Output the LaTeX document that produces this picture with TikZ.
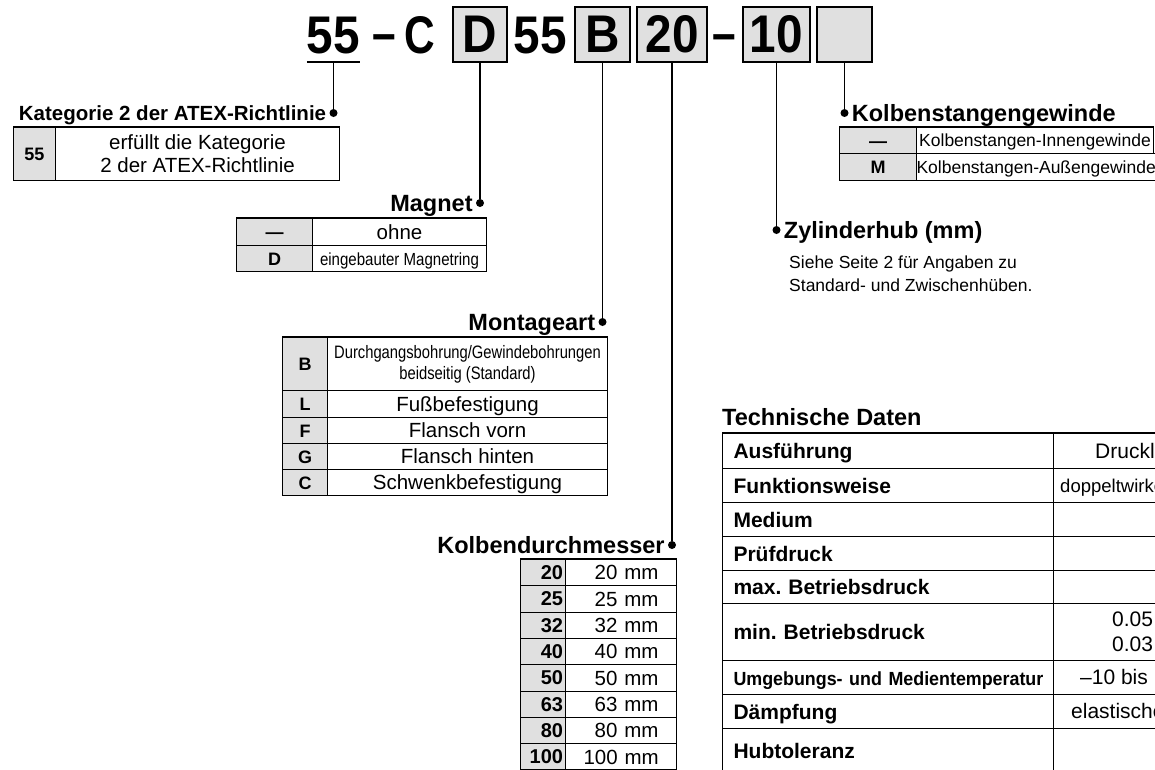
\documentclass[tikz,border=0pt]{standalone}
\usepackage{fontspec}
\setmainfont{Liberation Sans}
\usepackage{graphicx}
\usetikzlibrary{positioning}

\definecolor{boxgray}{RGB}{224,224,224}

\begin{document}
\begin{tikzpicture}[x=1pt, y=-1pt,
  codebox/.style={draw, line width=1.6pt, fill=boxgray, minimum height=55, inner sep=0,
    font=\bfseries\fontsize{53}{53}\selectfont},
  codetxt/.style={inner sep=0, anchor=base, font=\bfseries\fontsize{53}{53}\selectfont},
  conn/.style={line width=1.6pt},
  dot/.style={circle, fill, inner sep=0, minimum size=8},
  head/.style={inner sep=0, text height=17, text depth=0, font=\bfseries\fontsize{23.5}{26}\selectfont},
  keycell/.style={draw, line width=1pt, fill=boxgray, inner sep=0, anchor=north west,
    text height=13, text depth=0, font=\bfseries\fontsize{18}{20}\selectfont},
  txtcell/.style={draw, line width=1pt, inner sep=0, anchor=north west, align=center,
    font=\fontsize{20.5}{23}\selectfont},
  rowcell/.style={txtcell, text height=14.5, text depth=0},
  labcell/.style={draw, line width=1pt, anchor=north west, minimum width=331, text width=309,
    inner xsep=11, inner ysep=0, align=left, text height=15, text depth=0,
    font=\bfseries\fontsize{21}{24}\selectfont},
  valcell/.style={draw, line width=1pt, anchor=north west, minimum width=150, inner sep=0},
  valtxt/.style={anchor=west, inner sep=0, text height=15, text depth=0, font=\fontsize{21}{25}\selectfont},
  topline/.style={line width=2.2pt},
]

\useasboundingbox (0,0) rectangle (1155,769);
\clip (0,0) rectangle (1155,769);

% order code
\node[codetxt] (c55) at (333.5,53) {\scalebox{0.9}[1]{55}};
\node[codetxt] (dash1) at (384,53) {\raisebox{2pt}{\scalebox{0.8}[1]{–}}};
\node[codetxt] (cC) at (419.5,53) {\scalebox{0.8}[1]{C}};
\node[codebox, minimum width=54] (cD) at (480,34.5) {\scalebox{0.9}[1]{D}};
\node[codetxt] (c55b) at (540,53) {\scalebox{0.9}[1]{55}};
\node[codebox, minimum width=55] (cB) at (602.5,34.5) {\scalebox{0.9}[1]{B}};
\node[codebox, minimum width=70] (c20) at (672,34.5) {\scalebox{0.9}[1]{20}};
\node[codetxt] (dash2) at (724,53) {\raisebox{2pt}{\scalebox{0.8}[1]{–}}};
\node[codebox, minimum width=67] (c10) at (776.5,34.5) {\scalebox{0.9}[1]{10}};
\node[codebox, minimum width=55] (cX) at (844.5,34.5) {};

\draw[line width=2pt] ([yshift=-8pt]c55.south west) -- ([yshift=-8pt]c55.south east);
\coordinate (u55) at ([yshift=-8pt]c55.south);

% Kategorie
\node[dot] (mK) at (333.5,113) {};
\draw[conn] (u55) -- (mK);
\node[head, text height=14.5, font=\bfseries\fontsize{20.5}{23}\selectfont, left=3pt of mK] (hK) {Kategorie 2 der ATEX-Richtlinie};
\node[keycell, minimum width=42, minimum height=53] (k55) at (13,127) {55};
\node[txtcell, minimum width=284, minimum height=53] (t55) at (55,127) {erfüllt die Kategorie\\2 der ATEX-Richtlinie};
\draw[topline] (k55.north west) -- (t55.north east);

% Magnet
\node[dot] (mD) at (480,203) {};
\draw[conn] (cD) -- (mD);
\node[head, left=3pt of mD] (hD) {Magnet};
\node[keycell, minimum width=76, minimum height=27] (kDa) at (236,218) {—};
\node[rowcell, minimum width=174, minimum height=27] (tDa) at (312,218) {ohne};
\node[keycell, minimum width=76, minimum height=26] (kDb) at (236,245) {D};
\node[rowcell, minimum width=174, minimum height=26, font=\fontsize{17.5}{20}\selectfont] (tDb) at (312,245) {\scalebox{0.86}[1]{eingebauter Magnetring}};
\draw[topline] (kDa.north west) -- (tDa.north east);

% Montageart
\node[dot] (mB) at (602.5,322) {};
\draw[conn] (cB) -- (mB);
\node[head, left=3pt of mB] (hB) {Montageart};
\node[keycell, minimum width=45, minimum height=53] (kBB) at (282,337) {B};
\node[txtcell, minimum width=280, minimum height=53, font=\fontsize{18}{21}\selectfont] (tBB) at (327,337)
  {\scalebox{0.82}[1]{Durchgangsbohrung/Gewindebohrungen}\\\scalebox{0.82}[1]{beidseitig (Standard)}};
\foreach \k/\t/\y/\h in {L/Fußbefestigung/390/27, F/Flansch vorn/417/26, G/Flansch hinten/443/26, C/Schwenkbefestigung/469/26} {
  \node[keycell, minimum width=45, minimum height=\h] (kB\k) at (282,\y) {\k};
  \node[rowcell, minimum width=280, minimum height=\h] (tB\k) at (327,\y) {\t};
}
\draw[topline] (kBB.north west) -- (tBB.north east);

% Kolbendurchmesser
\node[dot] (m20) at (672,545) {};
\draw[conn] (c20) -- (m20);
\node[head, left=3pt of m20] (h20) {Kolbendurchmesser};
\foreach \d [count=\i from 0] in {20,25,32,40,50,63,80,100} {
  \node[keycell, minimum width=45, minimum height=26.3, text width=40, align=right,
    text height=14, font=\bfseries\fontsize{20}{22}\selectfont] (kd\d) at (520,559+26.3*\i) {\d};
  \node[rowcell, minimum width=111, minimum height=26.3, text width=75, align=right] (td\d) at (565,559+26.3*\i) {\d~mm};
}
\draw[topline] (kd20.north west) -- (td20.north east);

% Kolbenstangengewinde
\node[dot] (mX) at (844.5,113) {};
\draw[conn] (cX) -- (mX);
\node[head, right=3pt of mX] (hX) {Kolbenstangengewinde};
\node[keycell, minimum width=77, minimum height=26] (kXa) at (839,127) {—};
\node[rowcell, minimum width=237, minimum height=26, text height=12.5, font=\fontsize{17.5}{20}\selectfont] (tXa) at (916,127) {Kolbenstangen-Innengewinde};
\node[keycell, minimum width=77, minimum height=27] (kXb) at (839,153) {M};
\node[rowcell, minimum width=237, minimum height=27, text height=12.5, font=\fontsize{17.5}{20}\selectfont] (tXb) at (916,153) {Kolbenstangen-Außengewinde};
\draw[topline] (kXa.north west) -- (tXa.north east);

% Zylinderhub
\node[dot] (m10) at (776.5,230) {};
\draw[conn] (c10) -- (m10);
\node[head, right=3pt of m10] (h10) {Zylinderhub (mm)};
\node[anchor=north west, inner sep=0, align=left, font=\fontsize{17.5}{23.5}\selectfont] (n10) at (789,255.5)
  {Siehe Seite 2 für Angaben zu\\Standard- und Zwischenhüben.};

% Technische Daten
\node[head, anchor=base west] (hT) at (722,425) {Technische Daten};
\foreach \n/\l/\y/\h in {Aus/Ausführung/433/35, Fun/Funktionsweise/468/34, Med/Medium/502/34,
    Pru/Prüfdruck/536/34, Max/max.\ Betriebsdruck/570/33, Min/min.\ Betriebsdruck/603/57,
    Umg/{\fontsize{19}{22}\selectfont\scalebox{0.94}[1]{Umgebungs- und Medientemperatur}}/660/34,
    Dam/Dämpfung/694/34, Hub/Hubtoleranz/728/45} {
  \node[labcell, minimum height=\h] (t\n) at (722,\y) {\l};
  \node[valcell, minimum height=\h] (c\n) at (1053,\y) {};
}
\draw[topline] (tAus.north west) -- (cAus.north east);
\node[valtxt] (vAus) at (1095,450.5) {Druckl};
\node[valtxt, font=\fontsize{18.5}{21}\selectfont] (vFun) at (1060,485) {doppeltwirke};
\node[anchor=west, inner sep=0, align=left, font=\fontsize{21}{25}\selectfont] (vMin) at (1112,631.5) {0.05\\0.03};
\node[valtxt] (vUmg) at (1080,677) {–10 bis};
\node[valtxt] (vDam) at (1071,711) {elastische};

\end{tikzpicture}
\end{document}
